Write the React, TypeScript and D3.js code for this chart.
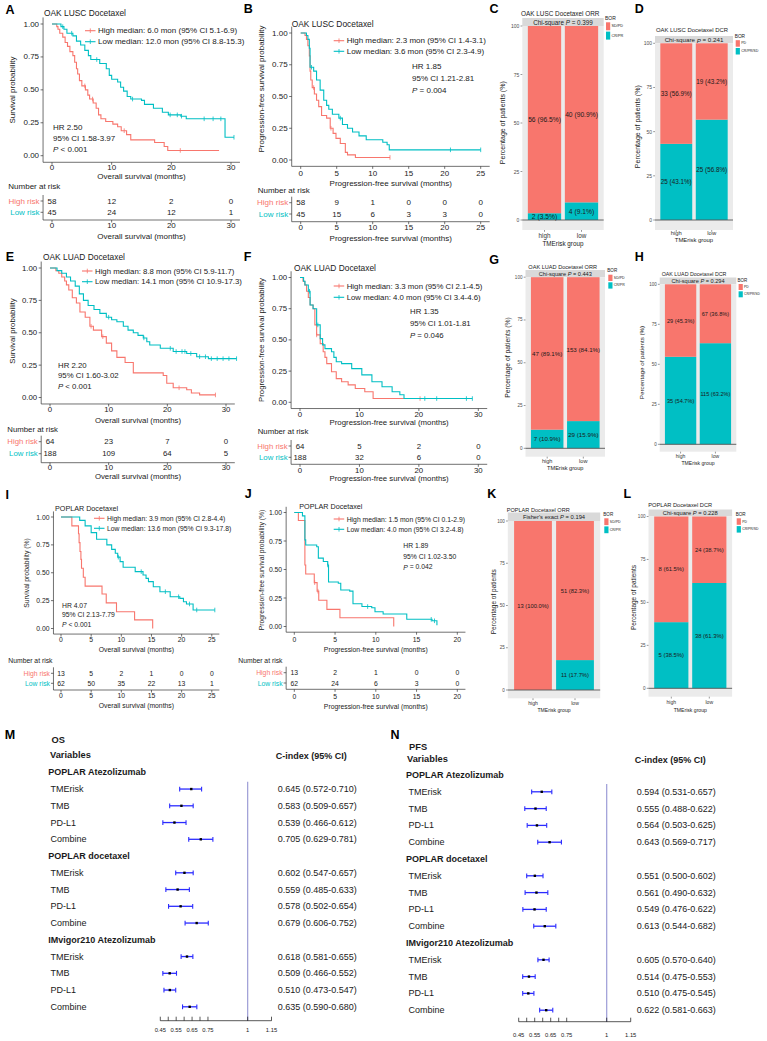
import React from 'react';
import * as d3 from 'd3';

type Step = [number, number];

const RED = '#F8766D';
const CYAN = '#00BFC4';
const FONT = "'Liberation Sans', Arial, Helvetica, sans-serif";
const INK = '#1a1a1a';

// ---------------- Kaplan-Meier data (time in months, survival) ----------------
const luscOsHigh: Step[] = [[0,1],[0.8,0.98],[1.0,0.96],[1.3,0.93],[1.8,0.90],[2.2,0.86],[2.6,0.83],[3.0,0.79],[3.5,0.76],[3.8,0.71],[4.1,0.66],[4.3,0.62],[4.6,0.57],[5.0,0.53],[5.6,0.50],[6.0,0.46],[6.3,0.43],[6.9,0.40],[7.4,0.36],[7.8,0.31],[8.2,0.28],[9.0,0.26],[10.2,0.24],[11.0,0.22],[11.6,0.19],[12.5,0.16],[13.2,0.12],[17.2,0.10],[18.8,0.07],[19.4,0.04],[28.0,0.04]];
const luscOsLow: Step[] = [[0,1],[1.5,0.98],[2.0,0.96],[2.5,0.93],[3.5,0.91],[4.1,0.87],[4.8,0.84],[5.5,0.80],[6.1,0.76],[6.5,0.73],[8.0,0.70],[9.1,0.66],[9.6,0.61],[10.0,0.58],[11.0,0.56],[11.5,0.52],[12.0,0.49],[12.6,0.45],[13.2,0.43],[15.0,0.42],[15.5,0.39],[17.0,0.36],[18.5,0.33],[19.5,0.31],[21.6,0.30],[22.5,0.28],[29.0,0.28],[29.0,0.14],[30.5,0.14]];
const luscOsHighCens = [5.5, 6.8, 12.1, 21.5];
const luscOsLowCens = [1.8, 3.3, 7.5, 13.5, 19.8, 21.0, 21.7, 25.5, 27.0, 28.3, 30.5];
const luscOsTicks = [0, 10, 20, 30];
const luscOsRiskHigh = [58, 12, 2, 0];
const luscOsRiskLow = [45, 24, 12, 1];

const luscPfsHigh: Step[] = [[0,1],[0.6,0.98],[0.8,0.95],[1.0,0.90],[1.2,0.82],[1.3,0.70],[1.4,0.63],[1.6,0.57],[1.9,0.52],[2.2,0.47],[2.5,0.42],[2.9,0.35],[3.6,0.33],[4.1,0.25],[4.5,0.21],[4.9,0.17],[5.5,0.13],[6.2,0.06],[6.5,0.04],[7.6,0.02],[12.4,0.02]];
const luscPfsLow: Step[] = [[0,1],[0.8,0.98],[1.0,0.95],[1.2,0.88],[1.3,0.73],[1.8,0.70],[2.2,0.63],[2.7,0.55],[3.2,0.47],[3.6,0.43],[3.9,0.40],[4.4,0.36],[5.3,0.33],[5.8,0.28],[6.5,0.25],[7.2,0.22],[8.1,0.19],[9.1,0.16],[11.4,0.14],[12.0,0.12],[12.3,0.08],[25.0,0.08]];
const luscPfsHighCens = [1.8, 4.2, 12.4];
const luscPfsLowCens = [1.5, 5.5, 20.8, 25.0];
const luscPfsTicks = [0, 5, 10, 15, 20, 25];
const luscPfsRiskHigh = [58, 9, 1, 0, 0, 0];
const luscPfsRiskLow = [45, 15, 6, 3, 3, 0];

const luadOsHigh: Step[] = [[0,1],[1.0,0.98],[1.5,0.96],[2.0,0.93],[2.5,0.90],[2.8,0.87],[3.2,0.83],[3.8,0.77],[4.5,0.73],[5.1,0.66],[6.0,0.62],[6.8,0.55],[7.4,0.52],[8.8,0.47],[9.6,0.42],[10.5,0.36],[11.4,0.31],[12.8,0.27],[14.2,0.19],[19.3,0.17],[19.9,0.11],[21.0,0.075],[23.3,0.06],[24.1,0.035],[25.5,0.02],[28.2,0.02]];
const luadOsLow: Step[] = [[0,1],[1.2,0.98],[2.0,0.96],[2.8,0.93],[3.5,0.90],[4.3,0.86],[5.0,0.80],[5.7,0.75],[6.5,0.71],[7.5,0.68],[8.5,0.65],[9.6,0.62],[10.5,0.60],[11.4,0.585],[12.5,0.55],[13.3,0.52],[14.2,0.50],[15.0,0.48],[15.9,0.46],[16.5,0.43],[17.0,0.405],[18.8,0.38],[21.0,0.355],[23.3,0.34],[25.0,0.315],[27.0,0.30],[31.8,0.30]];
const luadOsHighCens = [7.0, 9.0, 22.0, 28.2];
const luadOsLowCens = [10.0, 16.0, 20.5, 21.5, 22.5, 23.0, 24.0, 25.5, 26.5, 27.5, 28.5, 29.5, 30.5, 31.8];
const luadOsTicks = [0, 10, 20, 30];
const luadOsRiskHigh = [64, 23, 7, 0];
const luadOsRiskLow = [188, 109, 64, 5];

const luadPfsHigh: Step[] = [[0,1],[0.5,0.97],[0.8,0.94],[1.1,0.89],[1.4,0.84],[1.7,0.78],[2.2,0.75],[2.5,0.62],[2.8,0.54],[3.4,0.47],[3.9,0.405],[4.2,0.36],[4.5,0.31],[5.3,0.245],[6.1,0.19],[7.0,0.165],[8.1,0.14],[9.3,0.11],[10.9,0.085],[12.3,0.03],[20.2,0.03]];
const luadPfsLow: Step[] = [[0,1],[0.6,0.97],[0.84,0.94],[1.4,0.89],[1.7,0.78],[2.2,0.75],[2.8,0.62],[3.4,0.51],[3.8,0.46],[4.2,0.43],[5.3,0.405],[5.7,0.36],[6.1,0.325],[7.0,0.31],[8.7,0.27],[10.4,0.22],[12.1,0.165],[13.8,0.125],[15.5,0.085],[16.8,0.06],[17.5,0.03],[29.0,0.03]];
const luadPfsHighCens = [2.8, 20.2];
const luadPfsLowCens = [1.6, 3.0, 21.0, 23.0, 28.0, 29.0];
const luadPfsTicks = [0, 10, 20, 30];
const luadPfsRiskHigh = [64, 5, 2, 0];
const luadPfsRiskLow = [188, 32, 6, 0];

const poplarOsHigh: Step[] = [[0,1],[1.8,0.92],[2.9,0.85],[3.0,0.77],[3.15,0.69],[3.3,0.62],[3.4,0.54],[3.7,0.46],[4.0,0.38],[6.8,0.31],[7.5,0.23],[9.2,0.15],[12.2,0.077],[15.2,0.0]];
const poplarOsLow: Step[] = [[0,1],[3.1,0.97],[4.0,0.92],[5.0,0.86],[5.9,0.80],[7.6,0.75],[8.4,0.71],[9.0,0.675],[9.4,0.64],[9.8,0.60],[10.3,0.55],[12.3,0.51],[13.6,0.48],[14.1,0.45],[14.5,0.42],[15.3,0.375],[16.4,0.33],[18.1,0.285],[19.7,0.27],[20.3,0.24],[20.8,0.22],[21.9,0.166],[25.5,0.166]];
const poplarOsHighCens: number[] = [];
const poplarOsLowCens = [9.5, 13.3, 17.3, 19.5, 21.3, 22.5, 25.5];
const poplarOsTicks = [0, 5, 10, 15, 20, 25];
const poplarOsRiskHigh = [13, 5, 2, 1, 0, 0];
const poplarOsRiskLow = [62, 50, 35, 22, 13, 1];

const poplarPfsHigh: Step[] = [[0,1],[0.5,0.93],[1.3,0.54],[1.4,0.46],[2.45,0.385],[2.8,0.31],[3.0,0.23],[4.0,0.15],[5.6,0.077],[12.2,0.0]];
const poplarPfsLow: Step[] = [[0,1],[1.0,0.97],[1.3,0.76],[1.4,0.715],[2.75,0.70],[2.95,0.60],[3.56,0.57],[4.1,0.54],[4.2,0.39],[5.4,0.38],[5.7,0.32],[6.8,0.31],[7.2,0.20],[8.3,0.175],[9.5,0.165],[9.9,0.13],[10.9,0.11],[13.8,0.063],[16.9,0.05],[17.5,0.01]];
const poplarPfsHighCens = [2.5, 2.9];
const poplarPfsLowCens = [4.1, 9.0, 16.8, 17.2];
const poplarPfsTicks = [0, 5, 10, 15, 20];
const poplarPfsRiskHigh = [13, 2, 1, 0, 0];
const poplarPfsRiskLow = [62, 24, 6, 3, 0];

// ---------------- Bar chart data ----------------
const riskGroups = ['high', 'low'];
const lConTopN = [56, 40]; const lConTopPct = [96.5, 90.9]; const lConBotN = [2, 4]; const lConBotPct = [3.5, 9.1];
const lDcrTopN = [33, 19]; const lDcrTopPct = [56.9, 43.2]; const lDcrBotN = [25, 25]; const lDcrBotPct = [43.1, 56.8];
const aOrrTopN = [47, 153]; const aOrrTopPct = [89.1, 84.1]; const aOrrBotN = [7, 29]; const aOrrBotPct = [10.9, 15.9];
const aDcrTopN = [29, 67]; const aDcrTopPct = [45.3, 36.8]; const aDcrBotN = [35, 115]; const aDcrBotPct = [54.7, 63.2];
const pOrrTopN = [13, 51]; const pOrrTopPct = [100.0, 82.3]; const pOrrBotN = [0, 11]; const pOrrBotPct = [0, 17.7];
const pDcrTopN = [8, 24]; const pDcrTopPct = [61.5, 38.7]; const pDcrBotN = [5, 38]; const pDcrBotPct = [38.5, 61.3];
const barTicks = [0, 25, 50, 75, 100];
const orrLevels = ['SD/PD', 'CR/PR'];
const dcrLevels = ['PD', 'CR/PR/SD'];

// ---------------- Forest data ----------------
const cohorts = ['POPLAR Atezolizumab', 'POPLAR docetaxel', 'IMvigor210 Atezolizumab'];
const variables = ['TMErisk', 'TMB', 'PD-L1', 'Combine'];
const osEst = [[0.645, 0.583, 0.539, 0.705], [0.602, 0.559, 0.578, 0.679], [0.618, 0.509, 0.510, 0.635]];
const osLo = [[0.572, 0.509, 0.466, 0.629], [0.547, 0.485, 0.502, 0.606], [0.581, 0.466, 0.473, 0.590]];
const osHi = [[0.710, 0.657, 0.612, 0.781], [0.657, 0.633, 0.654, 0.752], [0.655, 0.552, 0.547, 0.680]];
const pfsEst = [[0.594, 0.555, 0.564, 0.643], [0.551, 0.561, 0.549, 0.613], [0.605, 0.514, 0.510, 0.622]];
const pfsLo = [[0.531, 0.488, 0.503, 0.569], [0.500, 0.490, 0.476, 0.544], [0.570, 0.475, 0.475, 0.581]];
const pfsHi = [[0.657, 0.622, 0.625, 0.717], [0.602, 0.632, 0.622, 0.682], [0.640, 0.553, 0.545, 0.663]];
const forestTicks = [0.45, 0.5, 0.55, 0.6, 0.65, 0.7, 0.75, 1, 1.15];
const forestTickLabels = [0.45, 0.55, 0.65, 0.75, 1, 1.15];

// ---------------- helpers ----------------
function Txt(props: any) {
  return <text fontFamily={FONT} dominantBaseline="central" fill={INK} {...props} />;
}

function sAt(steps: Step[], t: number) {
  let s = 1;
  for (const [ti, si] of steps) if (ti <= t) s = si;
  return s;
}

function KM({ c }: { c: any }) {
  const xs = d3.scaleLinear().domain([0, c.tMax]).range([c.x0, c.x1]);
  const ys = d3.scaleLinear().domain([0, 1]).range([c.yBot, c.yTop]);
  const padX = (c.x1 - c.x0) * 0.05;
  const padY = (c.yBot - c.yTop) * 0.05;
  const L = c.x0 - padX, R = c.x1 + padX, B = c.yBot + padY, T = c.yTop - padY;
  const line = d3.line<Step>().x(d => xs(d[0])).y(d => ys(d[1])).curve(d3.curveStepAfter);
  const fs = c.fs;
  const ax = '#333';
  const curves = [
    { d: c.high, cens: c.highC, col: RED },
    { d: c.low, cens: c.lowC, col: CYAN },
  ];
  const midX = (L + R) / 2;
  const riskTop = c.riskHighY - 6;
  return (
    <g>
      <Txt x={c.titleX} y={c.titleY} fontSize={c.titleFs}>{c.title}</Txt>
      {/* axes */}
      <line x1={L} x2={L} y1={T} y2={B} stroke={ax} strokeWidth={0.7} />
      <line x1={L} x2={R} y1={B} y2={B} stroke={ax} strokeWidth={0.7} />
      {[0, 0.25, 0.5, 0.75, 1].map(v => (
        <g key={v}>
          <line x1={L - 2.5} x2={L} y1={ys(v)} y2={ys(v)} stroke={ax} strokeWidth={0.7} />
          <Txt x={L - 4} y={ys(v)} fontSize={fs} textAnchor="end" fill="#222">{d3.format('.2f')(v)}</Txt>
        </g>
      ))}
      {c.ticks.map((v: number) => (
        <g key={v}>
          <line x1={xs(v)} x2={xs(v)} y1={B} y2={B + 2.5} stroke={ax} strokeWidth={0.7} />
          <Txt x={xs(v)} y={c.tickLabelY} fontSize={fs} textAnchor="middle" fill="#222">{v}</Txt>
        </g>
      ))}
      <Txt x={midX} y={c.xTitleY} fontSize={fs} textAnchor="middle">{c.xLabel}</Txt>
      <Txt transform={`translate(${c.yLabelX},${c.yLabelY}) rotate(-90)`} fontSize={fs} textAnchor="middle">{c.yLabel}</Txt>
      {/* curves */}
      {curves.map((cv, i) => (
        <g key={i}>
          <path d={line(cv.d) || ''} fill="none" stroke={cv.col} strokeWidth={1.1} />
          {cv.cens.map((t: number, j: number) => (
            <line key={j} x1={xs(t)} x2={xs(t)} y1={ys(sAt(cv.d, t)) - 2.3} y2={ys(sAt(cv.d, t)) + 2.3} stroke={cv.col} strokeWidth={0.8} />
          ))}
        </g>
      ))}
      {/* legend */}
      {[{ t: c.legHigh, col: RED, y: c.legY[0] }, { t: c.legLow, col: CYAN, y: c.legY[1] }].map((l, i) => (
        <g key={i}>
          <line x1={c.legX - 13} x2={c.legX - 2.5} y1={l.y} y2={l.y} stroke={l.col} strokeWidth={1.1} />
          <line x1={c.legX - 7.7} x2={c.legX - 7.7} y1={l.y - 2.3} y2={l.y + 2.3} stroke={l.col} strokeWidth={0.8} />
          <Txt x={c.legX} y={l.y} fontSize={fs}>{l.t}</Txt>
        </g>
      ))}
      {/* HR text */}
      <Txt x={c.hrX} y={c.hrY[0]} fontSize={fs}>{c.hr}</Txt>
      <Txt x={c.hrX} y={c.hrY[1]} fontSize={fs}>{c.ci}</Txt>
      <Txt x={c.hrX} y={c.hrY[2]} fontSize={fs}><tspan fontStyle="italic">P</tspan>{c.pRel}</Txt>
      {/* risk table */}
      <Txt x={c.narX} y={c.narY} fontSize={fs}>Number at risk</Txt>
      <line x1={L} x2={L} y1={riskTop} y2={c.riskLineY} stroke={ax} strokeWidth={0.7} />
      <line x1={L} x2={R} y1={c.riskLineY} y2={c.riskLineY} stroke={ax} strokeWidth={0.7} />
      {[{ lab: 'High risk', col: RED, y: c.riskHighY, vals: c.riskHigh }, { lab: 'Low risk', col: CYAN, y: c.riskLowY, vals: c.riskLow }].map((r, i) => (
        <g key={i}>
          <line x1={L - 2.5} x2={L} y1={r.y} y2={r.y} stroke={ax} strokeWidth={0.7} />
          <Txt x={L - 3.5} y={r.y} fontSize={fs} textAnchor="end" fill={r.col}>{r.lab}</Txt>
          {r.vals.map((v: number, j: number) => (
            <Txt key={j} x={xs(c.ticks[j])} y={r.y} fontSize={fs} textAnchor="middle">{v}</Txt>
          ))}
        </g>
      ))}
      {c.ticks.map((v: number) => (
        <g key={v}>
          <line x1={xs(v)} x2={xs(v)} y1={c.riskLineY} y2={c.riskLineY + 2.5} stroke={ax} strokeWidth={0.7} />
          <Txt x={xs(v)} y={c.riskTickY} fontSize={fs} textAnchor="middle" fill="#222">{v}</Txt>
        </g>
      ))}
      <Txt x={midX} y={c.riskTitleY} fontSize={fs} textAnchor="middle">{c.xLabel}</Txt>
    </g>
  );
}

function Bars({ c }: { c: any }) {
  const xs = d3.scalePoint<string>().domain(riskGroups).range([c.left, c.right]).padding(0.6);
  const bw = xs.step() * 0.9;
  const ys = d3.scaleLinear().domain([0, 100]).range([c.y0, c.y100]);
  const fmt = (n: number, p: number) => `${n} (${p.toFixed(1)}%)`;
  const boxH = c.boxH;
  const b1 = c.legY + 4;
  const b2 = b1 + boxH + 1.3;
  return (
    <g>
      <Txt x={c.titleX} y={c.titleY} fontSize={c.titleFs}>{c.title}</Txt>
      <rect x={c.left} y={c.stripTop} width={c.right - c.left} height={c.y100 - c.stripTop} fill="#D9D9D9" />
      <Txt x={(c.left + c.right) / 2} y={(c.stripTop + c.y100) / 2} fontSize={c.stripFs} textAnchor="middle">
        {c.stripPre}<tspan fontStyle="italic">P</tspan>{c.stripPost}
      </Txt>
      <rect x={c.left} y={c.y100} width={c.right - c.left} height={c.bottom - c.y100} fill="#EBEBEB" />
      {riskGroups.map((g, i) => {
        const cx = xs(g) as number;
        const yb = ys(c.botPct[i]);
        return (
          <g key={g}>
            <rect x={cx - bw / 2} y={yb} width={bw} height={ys(0) - yb} fill={CYAN} />
            <rect x={cx - bw / 2} y={ys(100)} width={bw} height={yb - ys(100)} fill={RED} />
            <Txt x={cx} y={(yb + ys(100)) / 2} fontSize={c.valFs} textAnchor="middle">{fmt(c.topN[i], c.topPct[i])}</Txt>
            {c.botN[i] > 0 && (
              <Txt x={cx} y={(yb + ys(0)) / 2} fontSize={c.valFs} textAnchor="middle">{fmt(c.botN[i], c.botPct[i])}</Txt>
            )}
            <line x1={cx} x2={cx} y1={c.bottom} y2={c.bottom + 1.8} stroke="#333" strokeWidth={0.5} />
            <Txt x={cx} y={c.xLabY} fontSize={c.axFs} textAnchor="middle" fill="#333">{g}</Txt>
          </g>
        );
      })}
      <line x1={c.left} x2={c.right} y1={ys(0)} y2={ys(0)} stroke="#555" strokeWidth={0.9} />
      {barTicks.map(v => (
        <g key={v}>
          <line x1={c.left - 1.8} x2={c.left} y1={ys(v)} y2={ys(v)} stroke="#333" strokeWidth={0.5} />
          <Txt x={c.left - 3} y={ys(v)} fontSize={c.tickFs} textAnchor="end" fill="#4D4D4D">{v}</Txt>
        </g>
      ))}
      <Txt x={(c.left + c.right) / 2} y={c.xTitleY} fontSize={c.axFs} textAnchor="middle">TMErisk group</Txt>
      <Txt transform={`translate(${c.yLabelX},${c.yLabelY}) rotate(-90)`} fontSize={c.yLabFs} textAnchor="middle">{c.yLabel}</Txt>
      <Txt x={c.legX - 1} y={c.legY} fontSize={c.legTitleFs}>BOR</Txt>
      <rect x={c.legX} y={b1} width={4.2} height={boxH} fill={RED} />
      <rect x={c.legX} y={b2} width={4.2} height={boxH} fill={CYAN} />
      <Txt x={c.legX + 5.5} y={b1 + boxH / 2} fontSize={c.legFs}>{c.levels[0]}</Txt>
      <Txt x={c.legX + 5.5} y={b2 + boxH / 2} fontSize={c.legFs}>{c.levels[1]}</Txt>
    </g>
  );
}

function Forest({ c }: { c: any }) {
  const xs = d3.scaleLinear().domain([0.45, 1.15]).range([c.ax0, c.ax1]);
  const rowY = (r: number) => c.row0Y + r * c.rowH;
  const fs = 9;
  return (
    <g>
      <Txt x={c.headX} y={c.headY} fontSize={9.3} fontWeight="bold">{c.head}</Txt>
      <Txt x={c.varX} y={c.varY} fontSize={9.3} fontWeight="bold">Variables</Txt>
      <Txt x={c.valX - 2} y={c.varY + 1} fontSize={9} fontWeight="bold">C-index (95% CI)</Txt>
      <line x1={xs(1)} x2={xs(1)} y1={c.refTop} y2={c.axisY} stroke="#9C9CD6" strokeWidth={1.2} />
      {cohorts.map((coh, g) => (
        <g key={coh}>
          <Txt x={c.groupX} y={rowY(g * 5)} fontSize={fs} fontWeight="bold">{coh}</Txt>
          {variables.map((v, k) => {
            const y = rowY(g * 5 + k + 1);
            const lo = c.lo[g][k], hi = c.hi[g][k], est = c.est[g][k];
            return (
              <g key={v}>
                <Txt x={c.labX} y={y} fontSize={fs}>{v}</Txt>
                <line x1={xs(lo)} x2={xs(hi)} y1={y} y2={y} stroke="#2B2BFF" strokeWidth={1.3} />
                <line x1={xs(lo)} x2={xs(lo)} y1={y - 2.4} y2={y + 2.4} stroke="#2B2BFF" strokeWidth={1.1} />
                <line x1={xs(hi)} x2={xs(hi)} y1={y - 2.4} y2={y + 2.4} stroke="#2B2BFF" strokeWidth={1.1} />
                <rect x={xs(est) - 1.2} y={y - 1.2} width={2.4} height={2.4} fill="#000" />
                <Txt x={c.valX} y={y} fontSize={fs}>{`${est.toFixed(3)} (${lo.toFixed(3)}-${hi.toFixed(3)})`}</Txt>
              </g>
            );
          })}
        </g>
      ))}
      <line x1={xs(0.45)} x2={xs(1.15)} y1={c.axisY} y2={c.axisY} stroke="#111" strokeWidth={0.7} />
      {forestTicks.map(t => (
        <line key={t} x1={xs(t)} x2={xs(t)} y1={c.axisY - 4} y2={c.axisY} stroke="#111" strokeWidth={0.7} />
      ))}
      {forestTickLabels.map(t => (
        <Txt key={t} x={xs(t)} y={c.tickLabY} fontSize={5.8} textAnchor="middle">{String(t)}</Txt>
      ))}
    </g>
  );
}

// ---------------- panel configurations ----------------
const kmA = {
  title: 'OAK LUSC Docetaxel', titleX: 44, titleY: 12.7, titleFs: 8.4, fs: 8,
  tMax: 30, ticks: luscOsTicks, x0: 52, x1: 231, yTop: 24, yBot: 155.7,
  high: luscOsHigh, low: luscOsLow, highC: luscOsHighCens, lowC: luscOsLowCens,
  legHigh: 'High median: 6.0 mon (95% CI 5.1-6.9)', legLow: 'Low median: 12.0 mon (95% CI 8.8-15.3)', legX: 98, legY: [30.7, 41.7],
  hr: 'HR 2.50', ci: '95% CI 1.58-3.97', pRel: ' < 0.001', hrX: 53, hrY: [127.7, 138.3, 149.3],
  yLabel: 'Survival probability', yLabelX: 12.7, yLabelY: 90, xLabel: 'Overall survival (months)',
  tickLabelY: 167, xTitleY: 176.7,
  narX: 8.3, narY: 186.7, riskHighY: 201, riskLowY: 212.3, riskLineY: 220, riskTickY: 225.5, riskTitleY: 236.7,
  riskHigh: luscOsRiskHigh, riskLow: luscOsRiskLow,
};
const kmB = {
  title: 'OAK LUSC Docetaxel', titleX: 291.7, titleY: 24, titleFs: 8.4, fs: 8,
  tMax: 25, ticks: luscPfsTicks, x0: 300.7, x1: 480.7, yTop: 33, yBot: 160,
  high: luscPfsHigh, low: luscPfsLow, highC: luscPfsHighCens, lowC: luscPfsLowCens,
  legHigh: 'High median: 2.3 mon (95% CI 1.4-3.1)', legLow: 'Low median: 3.6 mon (95% CI 2.3-4.9)', legX: 346.7, legY: [40.7, 51.3],
  hr: 'HR 1.85', ci: '95% CI 1.21-2.81', pRel: ' = 0.004', hrX: 412, hrY: [66.7, 78.3, 90],
  yLabel: 'Progression-free survival probability', yLabelX: 261, yLabelY: 89, xLabel: 'Progression-free survival (months)',
  tickLabelY: 173.3, xTitleY: 183.3,
  narX: 257.7, narY: 190, riskHighY: 202.7, riskLowY: 214, riskLineY: 221.7, riskTickY: 227.7, riskTitleY: 238.3,
  riskHigh: luscPfsRiskHigh, riskLow: luscPfsRiskLow,
};
const kmE = {
  title: 'OAK LUAD Docetaxel', titleX: 43, titleY: 256.7, titleFs: 8.4, fs: 7.8,
  tMax: 30, ticks: luadOsTicks, x0: 50, x1: 226, yTop: 268, yBot: 397.5,
  high: luadOsHigh, low: luadOsLow, highC: luadOsHighCens, lowC: luadOsLowCens,
  legHigh: 'High median: 8.8 mon (95% CI 5.9-11.7)', legLow: 'Low median: 14.1 mon (95% CI 10.9-17.3)', legX: 95, legY: [271, 281.7],
  hr: 'HR 2.20', ci: '95% CI 1.60-3.02', pRel: ' < 0.001', hrX: 58, hrY: [365, 375.7, 386],
  yLabel: 'Survival probability', yLabelX: 12, yLabelY: 331, xLabel: 'Overall survival (months)',
  tickLabelY: 409.5, xTitleY: 420,
  narX: 7.3, narY: 429, riskHighY: 441.7, riskLowY: 453.7, riskLineY: 462.7, riskTickY: 467.7, riskTitleY: 476.7,
  riskHigh: luadOsRiskHigh, riskLow: luadOsRiskLow,
};
const kmF = {
  title: 'OAK LUAD Docetaxel', titleX: 294, titleY: 268, titleFs: 8.4, fs: 7.8,
  tMax: 30, ticks: luadPfsTicks, x0: 300, x1: 478.3, yTop: 277.5, yBot: 402.3,
  high: luadPfsHigh, low: luadPfsLow, highC: luadPfsHighCens, lowC: luadPfsLowCens,
  legHigh: 'High median: 3.3 mon (95% CI 2.1-4.5)', legLow: 'Low median: 4.0 mon (95% CI 3.4-4.6)', legX: 346.7, legY: [286, 297.3],
  hr: 'HR 1.35', ci: '95% CI 1.01-1.81', pRel: ' = 0.046', hrX: 410, hrY: [311.7, 323.3, 335],
  yLabel: 'Progression-free survival probability', yLabelX: 261.7, yLabelY: 340, xLabel: 'Progression-free survival (months)',
  tickLabelY: 414.3, xTitleY: 422,
  narX: 257.7, narY: 431.7, riskHighY: 446, riskLowY: 457.3, riskLineY: 464.3, riskTickY: 470, riskTitleY: 478,
  riskHigh: luadPfsRiskHigh, riskLow: luadPfsRiskLow,
};
const kmI = {
  title: 'POPLAR Docetaxel', titleX: 55, titleY: 508, titleFs: 7.2, fs: 6.8,
  tMax: 25, ticks: poplarOsTicks, x0: 61, x1: 211.8, yTop: 517, yBot: 628.5,
  high: poplarOsHigh, low: poplarOsLow, highC: poplarOsHighCens, lowC: poplarOsLowCens,
  legHigh: 'High median: 3.9 mon (95% CI 2.8-4.4)', legLow: 'Low median: 13.6 mon (95% CI 9.3-17.8)', legX: 107, legY: [518.3, 528.3],
  hr: 'HR 4.07', ci: '95% CI 2.13-7.79', pRel: ' < 0.001', hrX: 62, hrY: [605, 614.3, 624],
  yLabel: 'Survival probability (%)', yLabelX: 26.7, yLabelY: 573, xLabel: 'Overall survival (months)',
  tickLabelY: 639.3, xTitleY: 649,
  narX: 8.3, narY: 660.7, riskHighY: 673.3, riskLowY: 683.3, riskLineY: 690, riskTickY: 695.5, riskTitleY: 705.7,
  riskHigh: poplarOsRiskHigh, riskLow: poplarOsRiskLow,
};
const kmJ = {
  title: 'POPLAR Docetaxel', titleX: 299.3, titleY: 506.7, titleFs: 7.2, fs: 6.8,
  tMax: 20, ticks: poplarPfsTicks, x0: 294.3, x1: 457.3, yTop: 512.5, yBot: 626.5,
  high: poplarPfsHigh, low: poplarPfsLow, highC: poplarPfsHighCens, lowC: poplarPfsLowCens,
  legHigh: 'High median: 1.5 mon (95% CI 0.1-2.9)', legLow: 'Low median: 4.0 mon (95% CI 3.2-4.8)', legX: 346.7, legY: [519, 529.3],
  hr: 'HR 1.89', ci: '95% CI 1.02-3.50', pRel: ' = 0.042', hrX: 403.3, hrY: [545, 556, 566.7],
  yLabel: 'Progression-free survival probability (%)', yLabelX: 261.7, yLabelY: 570, xLabel: 'Progression-free survival (months)',
  tickLabelY: 639.3, xTitleY: 649,
  narX: 238.3, narY: 660, riskHighY: 672.7, riskLowY: 683, riskLineY: 689.3, riskTickY: 696, riskTitleY: 706,
  riskHigh: poplarPfsRiskHigh, riskLow: poplarPfsRiskLow,
};

const barC = {
  title: 'OAK LUSC Docetaxel ORR', titleX: 521, titleY: 13.3, titleFs: 6.4,
  stripPre: 'Chi-square ', stripPost: ' = 0.399', stripTop: 18, stripFs: 6.3,
  left: 522.3, right: 603.7, y100: 26, y0: 220, bottom: 230,
  topN: lConTopN, topPct: lConTopPct, botN: lConBotN, botPct: lConBotPct, levels: orrLevels,
  legX: 606, legY: 18.3, boxH: 8, legFs: 3.8, legTitleFs: 5,
  yLabel: 'Percentage of patients (%)', yLabelX: 502.3, yLabelY: 122.7, yLabFs: 7,
  xLabY: 235, xTitleY: 243, valFs: 6.7, axFs: 6.3, tickFs: 5,
};
const barD = {
  title: 'OAK LUSC Docetaxel DCR', titleX: 656, titleY: 30, titleFs: 5.9,
  stripPre: 'Chi-square ', stripPost: ' = 0.241', stripTop: 36, stripFs: 6.2,
  left: 655, right: 733, y100: 43.3, y0: 220, bottom: 230,
  topN: lDcrTopN, topPct: lDcrTopPct, botN: lDcrBotN, botPct: lDcrBotPct, levels: dcrLevels,
  legX: 735.7, legY: 36.2, boxH: 6.5, legFs: 3.6, legTitleFs: 4.8,
  yLabel: 'Percentage of patients (%)', yLabelX: 637.7, yLabelY: 126.7, yLabFs: 7,
  xLabY: 232.7, xTitleY: 240, valFs: 6.3, axFs: 5.9, tickFs: 5,
};
const barG = {
  title: 'OAK LUAD Docetaxel ORR', titleX: 528.3, titleY: 266.7, titleFs: 5.6,
  stripPre: 'Chi-square ', stripPost: ' = 0.443', stripTop: 270, stripFs: 5.6,
  left: 525.5, right: 605, y100: 277.2, y0: 448.3, bottom: 456.7,
  topN: aOrrTopN, topPct: aOrrTopPct, botN: aOrrBotN, botPct: aOrrBotPct, levels: orrLevels,
  legX: 608.3, legY: 270.7, boxH: 6.3, legFs: 3.5, legTitleFs: 4.6,
  yLabel: 'Percentage of patients (%)', yLabelX: 507.3, yLabelY: 357.5, yLabFs: 6.8,
  xLabY: 461, xTitleY: 468.3, valFs: 6.2, axFs: 5.6, tickFs: 4.6,
};
const barH = {
  title: 'OAK LUAD Docetaxel DCR', titleX: 661.7, titleY: 274, titleFs: 5.3,
  stripPre: 'Chi-square ', stripPost: ' = 0.294', stripTop: 277.5, stripFs: 5.6,
  left: 659.7, right: 736.3, y100: 284.3, y0: 444.3, bottom: 451.7,
  topN: aDcrTopN, topPct: aDcrTopPct, botN: aDcrBotN, botPct: aDcrBotPct, levels: dcrLevels,
  legX: 738.6, legY: 280, boxH: 6, legFs: 3.3, legTitleFs: 4.5,
  yLabel: 'Percentage of patients (%)', yLabelX: 641.7, yLabelY: 362.5, yLabFs: 6.2,
  xLabY: 456, xTitleY: 463.3, valFs: 5.6, axFs: 5.1, tickFs: 4.5,
};
const barK = {
  title: 'POPLAR Docetaxel ORR', titleX: 506.7, titleY: 510, titleFs: 5.6,
  stripPre: "Fisher's exact ", stripPost: ' = 0.194', stripTop: 512.5, stripFs: 5.8,
  left: 507.8, right: 600.2, y100: 521, y0: 690, bottom: 698.3,
  topN: pOrrTopN, topPct: pOrrTopPct, botN: pOrrBotN, botPct: pOrrBotPct, levels: orrLevels,
  legX: 604.3, legY: 514.3, boxH: 6.8, legFs: 3.5, legTitleFs: 4.6,
  yLabel: 'Percentage of patients', yLabelX: 493.3, yLabelY: 601.7, yLabFs: 6.5,
  xLabY: 702.7, xTitleY: 710, valFs: 5.8, axFs: 5.1, tickFs: 4.6,
};
const barL = {
  title: 'POPLAR Docetaxel DCR', titleX: 648.3, titleY: 505, titleFs: 5.7,
  stripPre: 'Chi-square ', stripPost: ' = 0.228', stripTop: 509.5, stripFs: 5.8,
  left: 648.5, right: 732.1, y100: 516.5, y0: 688.3, bottom: 696.7,
  topN: pDcrTopN, topPct: pDcrTopPct, botN: pDcrBotN, botPct: pDcrBotPct, levels: dcrLevels,
  legX: 736.7, legY: 514.3, boxH: 6.5, legFs: 3.4, legTitleFs: 4.6,
  yLabel: 'Percentage of patients', yLabelX: 633.3, yLabelY: 597.5, yLabFs: 6.5,
  xLabY: 701.7, xTitleY: 710, valFs: 5.9, axFs: 5.1, tickFs: 4.6,
};

const forestM = {
  head: 'OS', headX: 51.5, headY: 740, varX: 50, varY: 755,
  groupX: 48.3, labX: 50.5, valX: 277.7, ax0: 160.3, ax1: 271.5,
  row0Y: 772.3, rowH: 16.75, refTop: 781.7, axisY: 1020.7, tickLabY: 1030,
  est: osEst, lo: osLo, hi: osHi,
};
const forestN = {
  head: 'PFS', headX: 409, headY: 746.7, varX: 407, varY: 759,
  groupX: 406, labX: 408.5, valX: 636.7, ax0: 518.7, ax1: 630.7,
  row0Y: 775, rowH: 16.8, refTop: 784, axisY: 1021.7, tickLabY: 1035,
  est: pfsEst, lo: pfsLo, hi: pfsHi,
};

const panelLetters: [string, number, number][] = [
  ['A', 10, 10], ['B', 248.3, 9.3], ['C', 494, 9.3], ['D', 639.3, 9.3],
  ['E', 10, 257.3], ['F', 247.5, 257], ['G', 494, 260], ['H', 639.3, 257.3],
  ['I', 7.3, 495], ['J', 248.3, 494.3], ['K', 491.7, 494.3], ['L', 627.3, 494.3],
  ['M', 10, 735], ['N', 395, 735],
];

export default function App() {
  return (
    <svg width={767} height={1041} viewBox="0 0 767 1041" style={{ position: 'absolute', left: 0, top: 0, background: '#fff' }}>
      <rect x={0} y={0} width={767} height={1041} fill="#fff" />
      {panelLetters.map(([l, x, y]) => (
        <Txt key={l} x={x} y={y} fontSize={12.5} fontWeight="bold" textAnchor="middle" fill="#000">{l}</Txt>
      ))}
      <KM c={kmA} />
      <KM c={kmB} />
      <KM c={kmE} />
      <KM c={kmF} />
      <KM c={kmI} />
      <KM c={kmJ} />
      <Bars c={barC} />
      <Bars c={barD} />
      <Bars c={barG} />
      <Bars c={barH} />
      <Bars c={barK} />
      <Bars c={barL} />
      <Forest c={forestM} />
      <Forest c={forestN} />
    </svg>
  );
}
